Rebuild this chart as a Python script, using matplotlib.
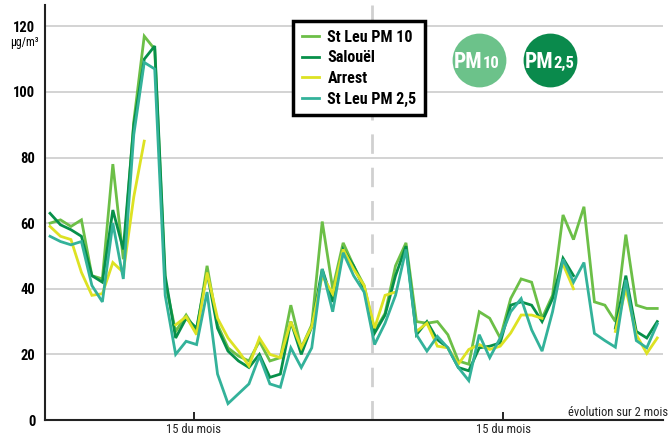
import numpy as np
import matplotlib
matplotlib.use("Agg")
import matplotlib.pyplot as plt

plt.rcParams['font.family'] = ['Roboto Condensed', 'DejaVu Sans']

nan = np.nan

# daily values over 2 months (µg/m3), index = day
st_leu_pm10 = [60, 61, 59, 61, 44, 43, 78, 49, 91, 117, 113, 42, 27, 32, 27, 47, 29, 22, 19.5, 18,
               24, 18, 19, 35, 22, 29, 60.5, 40, 54, 47, 41, 27, 32.5, 47, 54, 30, 29.5, 30, 26, 18,
               17, 33, 31, 25, 37, 43, 42, 31, 38, 62.5, 55, 65, 36, 35, 30, 56.5, 35, 34, 34]
salouel = [63, 59.5, 58, 56, 44, 42, 64, 52, 90, 110, 114, 44, 25, 31, 28, 45, 28, 21, 18, 16,
           20, 13, 14, 30, 20, 28.5, 46, 36, 52, 47, 40, 26.5, 32, 44, 53, 26, 30, 24.5, 22, 16,
           15, 22, 22.5, 23.5, 35, 36, 35, 30, 37, 49.3, 44, nan, nan, nan, 28, 44, 27, 25, 30]
arrest = [59, 56, 55, 45, 38, 38.5, 48, 45, 68, 85, nan, nan, 29, 31.5, 26, 45, 31, 25, 21, 16.5,
          25, 20, 19, 30, 22, 28.5, 44, 38.5, 52, 46, 41, 28, 38, 39, nan, 27, 29.5, 22.5, 22, 17,
          21.5, 23, 21.5, 22.5, 26.5, 32, 32, 31, nan, 47.5, 40, nan, nan, nan, 27, 40, 26, 20.3, 25]
st_leu_pm25 = [56, 54.4, 53.4, 54.4, 41, 36, 60, 43, 87, 109, 107, 38, 20, 24, 23, 39, 14, 5, 8, 11,
               19.5, 11, 10, 22, 16, 22, 46, 33, 51, 44, 39, 23, 29.5, 38, 52, 26, 21, 25.5, 22, 16,
               12, 26, 19, 25, 33, 37, 27.5, 21, 33, 49, 42, 48, 26.4, 24.2, 22.2, 42.7, 24.2, 22, 29.3]

series_names = ['St Leu PM 10', 'Salouël', 'Arrest', 'St Leu PM 2,5']
series_colors = ['#6cbf47', '#07904a', '#dde223', '#33b29a']

mid_month_ticks = [13.75, 43.27]
mid_month_labels = ['15 du mois', '15 du mois']
month_break = 30.75
y_ticks = [0, 20, 40, 60, 80, 100, 120]

days = np.arange(len(st_leu_pm10))

fig = plt.figure(figsize=(6.7, 4.36), dpi=100)
ax = fig.add_axes([45 / 670, 1 - 420 / 436, 618 / 670, 415 / 436])

for yv in y_ticks[1:]:
    ax.axhline(yv, color='#cccccc', lw=1.2, zorder=0)
ax.axvline(month_break, color='#d0d0d0', lw=2, dashes=(7, 5), zorder=0)

for vals, name, col in zip([st_leu_pm10, salouel, arrest, st_leu_pm25], series_names, series_colors):
    ax.plot(days, vals, color=col, lw=2, label=name, solid_joinstyle='miter')

ax.set_xlim(-0.48, 58.55)
ax.set_ylim(0, 126.5)
ax.set_yticks(y_ticks)
ax.set_yticklabels([str(v) for v in y_ticks], fontsize=10.5, fontweight='bold')
ax.tick_params(axis='y', length=0, pad=7)
ax.set_xticks(mid_month_ticks)
ax.set_xticklabels(mid_month_labels, fontsize=9, color='#222222')
ax.tick_params(axis='x', direction='in', length=6, width=1.2, pad=2)

for s in ['top', 'right']:
    ax.spines[s].set_visible(False)
for s in ['left', 'bottom']:
    ax.spines[s].set_linewidth(1.5)
    ax.spines[s].set_color('#222222')

fig.text(10 / 670, 1 - 46 / 436, 'µg/m³', fontsize=8.5, ha='left', va='baseline')
fig.text(668 / 670, 1 - 416 / 436, 'évolution sur 2 mois', fontsize=9, ha='right', va='baseline',
         color='#222222')

leg = ax.legend(loc='upper left', bbox_to_anchor=(293 / 670, 1 - 21 / 436), bbox_transform=fig.transFigure,
                fancybox=False, framealpha=1, edgecolor='black', borderaxespad=0,
                prop={'weight': 'bold', 'size': 11.5}, handlelength=1.1, handletextpad=0.5,
                labelspacing=0.35, borderpad=0.55)
leg.get_frame().set_linewidth(2.5)
for ln in leg.get_lines():
    ln.set_linewidth(2)

# PM badges
badges = [('PM', '10', '#6cc28a', 478.7, 4), ('PM', '2,5', '#0a8a4c', 550, 3)]
for big, small, col, cx, shift in badges:
    ax.scatter([(cx - 45) / 618], [(420 - 60.3) / 415], s=1500, color=col, transform=ax.transAxes,
               clip_on=False, zorder=5, linewidths=0)
    fig.text((cx + shift) / 670, 1 - 68 / 436, big, fontsize=15.5, fontweight='bold', color='white',
             ha='right', va='baseline', zorder=6)
    fig.text((cx + shift) / 670, 1 - 68 / 436, small, fontsize=12, fontweight='bold', color='white',
             ha='left', va='baseline', zorder=6)

plt.savefig('out.png', dpi=100)
